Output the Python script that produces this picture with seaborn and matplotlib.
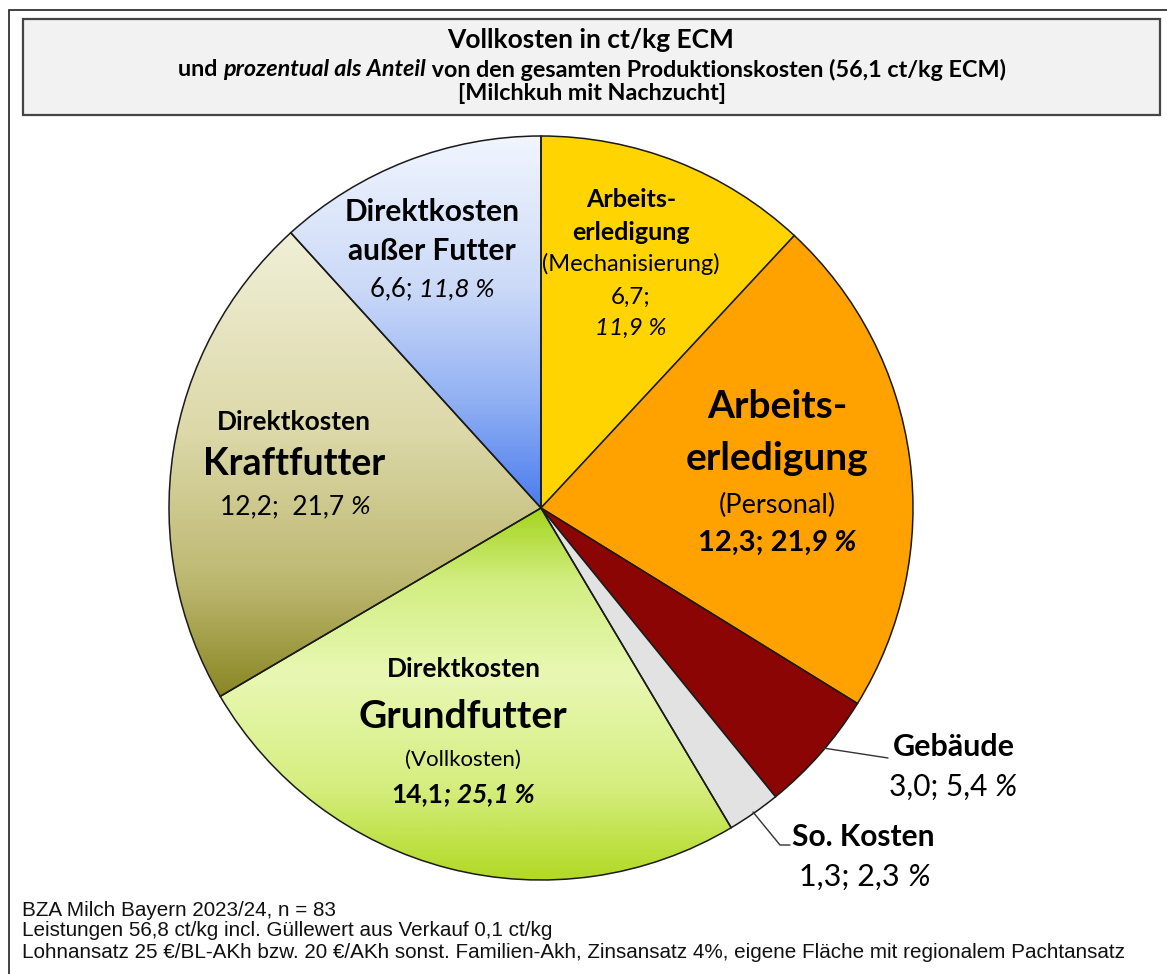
import numpy as np
import matplotlib
matplotlib.use("Agg")
import matplotlib.pyplot as plt
import seaborn as sns
from matplotlib.patches import Rectangle
from matplotlib.lines import Line2D
from matplotlib.colors import LinearSegmentedColormap

# ---------------- data ----------------
categories = ["Arbeitserledigung (Mechanisierung)", "Arbeitserledigung (Personal)",
              "Gebäude", "So. Kosten", "Direktkosten Grundfutter",
              "Direktkosten Kraftfutter", "Direktkosten außer Futter"]
values = [6.7, 12.3, 3.0, 1.3, 14.1, 12.2, 6.6]
percents = ["11,9", "21,9", "5,4", "2,3", "25,1", "21,7", "11,8"]
value_labels = ["6,7", "12,3", "3,0", "1,3", "14,1", "12,2", "6,6"]
solid_colors = ["#FFD400", "#FFA200", "#8B0505", "#E2E2E2", None, None, None]
title_lines = ["Vollkosten in ct/kg ECM",
               "und prozentual als Anteil von den gesamten Produktionskosten (56,1 ct/kg ECM)",
               "[Milchkuh mit Nachzucht]"]
footer_lines = ["BZA Milch Bayern 2023/24, n = 83",
                "Leistungen 56,8 ct/kg incl. Güllewert aus Verkauf 0,1 ct/kg",
                "Lohnansatz 25 €/BL-AKh bzw. 20 €/AKh sonst. Familien-Akh, Zinsansatz 4%, eigene Fläche mit regionalem Pachtansatz"]

sns.set_style("white")
FONT = ["Lato", "DejaVu Sans"]
FOOT = ["Liberation Sans", "DejaVu Sans"]
plt.rcParams["font.family"] = FONT

W, H = 1167, 974
fig = plt.figure(figsize=(W / 100, H / 100), dpi=100)
fig.patch.set_facecolor("white")

def fx(x):
    return x / W

def fy(y):
    return 1 - y / H

# outer border
fig.patches.append(Rectangle((fx(9), fy(990)), fx(1200), 980 / H, transform=fig.transFigure,
                             fill=False, edgecolor="#333333", lw=1.3))
# title box
fig.patches.append(Rectangle((fx(23), fy(115)), fx(1137), 96 / H, transform=fig.transFigure,
                             facecolor="#F2F2F2", edgecolor="#444444", lw=1.6))

renderer = fig.canvas.get_renderer()

def mixed(x, y, parts, size, family=FONT, color="black"):
    """parts: list of (text, weight, style); centred at pixel (x, y)."""
    objs = []
    for txt, wt, st in parts:
        t = fig.text(0, fy(y), txt, fontsize=size, fontweight=wt, fontstyle=st,
                     family=family, color=color, ha="left", va="center")
        objs.append(t)
    widths = [o.get_window_extent(renderer).width for o in objs]
    total = sum(widths)
    cur = x - total / 2
    for o, w in zip(objs, widths):
        o.set_x(fx(cur))
        cur += w
    return objs

B, N, I = "bold", "normal", "italic"

# title
mixed(591, 40, [(title_lines[0], B, N)], 19)
mixed(592, 70, [("und ", B, N), ("prozentual als Anteil", B, I),
                (" von den gesamten Produktionskosten (56,1 ct/kg ECM)", B, N)], 16.8)
mixed(592, 93, [(title_lines[2], B, N)], 16.8)

# ---------------- pie ----------------
cx, cy, R = 541, 508, 372
ax = fig.add_axes([fx(cx - R), fy(cy + R), 2 * R / W, 2 * R / H])
wedges, _ = ax.pie(values, startangle=90, counterclock=False, radius=1,
                   colors=[c if c else "none" for c in solid_colors],
                   wedgeprops=dict(edgecolor="#1a1a1a", linewidth=1.1))
ax.set_xlim(-1, 1)
ax.set_ylim(-1, 1)
ax.set_aspect("auto")
ax.axis("off")

def grad_fill(wedge, stops):
    cmap = LinearSegmentedColormap.from_list("g", stops)
    yy = np.linspace(-1, 1, 400).reshape(-1, 1)
    img = ax.imshow(np.repeat(yy, 2, axis=1), extent=[-1, 1, -1, 1], origin="lower",
                    cmap=cmap, vmin=-1, vmax=1, aspect="auto", zorder=wedge.get_zorder() - 0.1,
                    interpolation="bilinear")
    img.set_clip_path(wedge)

def st(pairs):
    return [((p + 1) / 2, c) for p, c in pairs]

grad_fill(wedges[4], st([(-1, "#B2DA26"), (-0.75, "#D6EE80"), (-0.45, "#E8F8B4"),
                         (-0.2, "#D2EE82"), (0.0, "#A4D41C"), (1, "#A4D41C")]))
grad_fill(wedges[5], st([(-1, "#808020"), (-0.5, "#8A8826"), (-0.2, "#BDB870"),
                         (0.2, "#DCD8A8"), (0.75, "#F0F0D8"), (1, "#F0F0D8")]))
grad_fill(wedges[6], st([(-1, "#4A7CEE"), (0.0, "#4A7CEE"), (0.3, "#93B2F4"),
                         (0.6, "#CCDAF8"), (1.0, "#F0F5FE")]))
ax.set_xlim(-1, 1)
ax.set_ylim(-1, 1)

# ---------------- labels ----------------
# Direktkosten außer Futter
mixed(432, 212, [("Direktkosten", B, N)], 21.5)
mixed(432, 251, [("außer Futter", B, N)], 21.5)
mixed(432, 289, [(value_labels[6] + "; ", N, N), (percents[6] + " %", N, I)], 18.5)

# Mechanisierung
mixed(631, 200, [("Arbeits-", B, N)], 18)
mixed(631, 232, [("erledigung", B, N)], 18)
mixed(631, 264, [("(Mechanisierung)", N, N)], 17)
mixed(631, 297, [(value_labels[0] + ";", N, N)], 17.5)
mixed(631, 328, [(percents[0] + " %", N, I)], 17.5)

# Personal
mixed(777, 406, [("Arbeits-", B, N)], 28)
mixed(777, 459, [("erledigung", B, N)], 28)
mixed(777, 505, [("(Personal)", N, N)], 19.5)
mixed(777, 543, [(value_labels[1] + "; 21,", B, N), ("9 %", B, I)], 21)

# Kraftfutter
mixed(294, 422, [("Direktkosten", B, N)], 19)
mixed(294, 464, [("Kraftfutter", B, N)], 27)
mixed(295, 507, [(value_labels[5] + ";  " + percents[5] + " ", N, N), ("%", N, I)], 19)

# Grundfutter
mixed(464, 669, [("Direktkosten", B, N)], 19)
mixed(463, 716, [("Grundfutter", B, N)], 28)
mixed(463, 760, [("(Vollkosten)", N, N)], 16)
mixed(463, 794, [(value_labels[4], B, N), ("; " + percents[4] + " %", B, I)], 19)

# Gebäude (outside)
fig.lines.append(Line2D([fx(823), fx(888)], [fy(748), fy(758)], transform=fig.transFigure,
                        color="#333333", lw=1.0))
mixed(954, 747, [("Gebäude", B, N)], 22)
mixed(953, 787, [(value_labels[2] + "; " + percents[2] + " ", N, N), ("%", N, I)], 21.5)

# So. Kosten (outside)
fig.lines.append(Line2D([fx(753), fx(780), fx(790)], [fy(812), fy(845), fy(845)],
                        transform=fig.transFigure, color="#333333", lw=1.0))
mixed(863, 837, [("So. Kosten", B, N)], 21.5)
mixed(865, 877, [(value_labels[3] + "; " + percents[3] + " ", N, N), ("%", N, I)], 22)

# footer
for i, line in enumerate(footer_lines):
    fig.text(fx(22), fy(910 + i * 21), line, fontsize=14.9, family=FOOT,
             ha="left", va="center", color="#111111")

fig.savefig("out.png", dpi=100, facecolor="white")
